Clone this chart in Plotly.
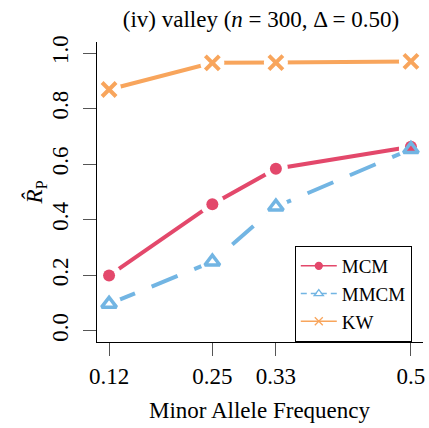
import plotly.graph_objects as go

maf = [0.12, 0.25, 0.33, 0.5]
tick_labels = ["0.12", "0.25", "0.33", "0.5"]
y_ticks = [0.0, 0.2, 0.4, 0.6, 0.8, 1.0]
y_tick_labels = ["0.0", "0.2", "0.4", "0.6", "0.8", "1.0"]

mcm = [0.199, 0.456, 0.584, 0.663]
mmcm = [0.097, 0.249, 0.447, 0.654]
kw = [0.869, 0.965, 0.966, 0.970]

series = [
    ("MCM", mcm, "#E3486B", "solid", "circle", 12, 0),
    ("MMCM", mmcm, "#72B5E3", "28px,18px", "triangle-up-open", 13, 3.5),
    ("KW", kw, "#F8A55C", "solid", "x-thin-open", 14, 4),
]

FONT = "Liberation Serif, Times New Roman, serif"
fig = go.Figure()

# lines
for name, vals, col, dash, sym, sz, lw in series:
    fig.add_trace(go.Scatter(x=maf, y=vals, mode="lines", showlegend=False,
                             line=dict(color=col, width=4, dash=dash), hoverinfo="skip"))
# white halos to create the gaps of an R type="b" plot
for name, vals, col, dash, sym, sz, lw in series:
    fig.add_trace(go.Scatter(x=maf, y=vals, mode="markers", showlegend=False,
                             marker=dict(color="white", size=24, line=dict(width=0)),
                             hoverinfo="skip"))
# markers
for name, vals, col, dash, sym, sz, lw in series:
    fig.add_trace(go.Scatter(x=maf, y=vals, mode="markers", showlegend=False,
                             marker=dict(color=col, size=sz, symbol=sym,
                                         line=dict(color=col, width=lw))))
# legend entries
for name, vals, col, dash, sym, sz, lw in series:
    ldash = "solid" if dash == "solid" else "6px,4px"
    fig.add_trace(go.Scatter(x=[None], y=[None], mode="lines+markers", name=name,
                             line=dict(color=col, width=1.5, dash=ldash),
                             marker=dict(color=col, size=8 if sym != "circle" else 7,
                                         symbol=sym, line=dict(color=col, width=1.3))))

fig.update_layout(
    width=429, height=428,
    margin=dict(l=97, r=4, t=42, b=86),
    paper_bgcolor="white", plot_bgcolor="white",
    font=dict(family=FONT, size=23, color="black"),
    title=dict(text="(iv) valley (<i>n</i> = 300, Δ = 0.50)", x=261 / 429, xanchor="center",
               y=1 - 19 / 428, yanchor="middle", font=dict(family=FONT, size=23)),
    showlegend=True,
    legend=dict(x=(296 - 97) / 328, y=(342 - 246) / 300, xanchor="left", yanchor="top",
                bgcolor="white", bordercolor="black", borderwidth=1, itemwidth=36,
                font=dict(family=FONT, size=19, color="black"), tracegroupgap=0),
)
fig.update_xaxes(range=[0.1048, 0.5152], tickmode="array", tickvals=maf, ticktext=tick_labels,
                 showline=True, linecolor="black", linewidth=1, mirror=False,
                 ticks="outside", ticklen=13, tickcolor="#555", tickwidth=1,
                 showgrid=False, zeroline=False, tickfont=dict(family=FONT, size=23))
fig.update_yaxes(range=[-0.04, 1.04], tickmode="array", tickvals=y_ticks, ticktext=y_tick_labels,
                 showline=True, linecolor="black", linewidth=1, mirror=False,
                 ticks="outside", ticklen=13, tickcolor="#555", tickwidth=1, tickangle=-90,
                 ticklabelstandoff=6,
                 showgrid=False, zeroline=False, tickfont=dict(family=FONT, size=23))

fig.add_annotation(text="Minor Allele Frequency", xref="paper", yref="paper",
                   x=(261 - 97) / 328, y=(342 - 410) / 300, xanchor="center", yanchor="middle",
                   showarrow=False, font=dict(family=FONT, size=23))
fig.add_annotation(text="<i>R̂</i><sub>P</sub>", xref="paper", yref="paper",
                   x=(35 - 97) / 328, y=0.5, xanchor="center", yanchor="middle",
                   textangle=-90, showarrow=False, font=dict(family=FONT, size=23))

fig.write_html("out.html")
